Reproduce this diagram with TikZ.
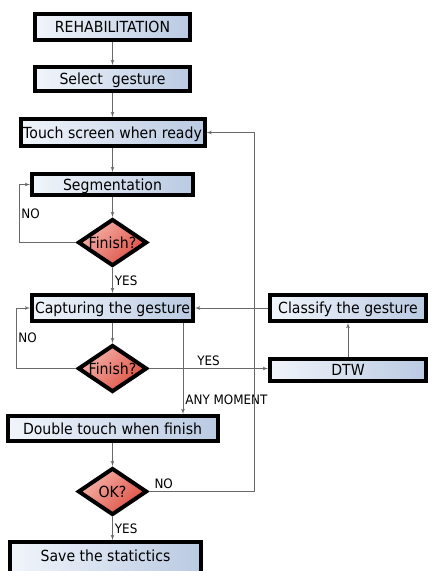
\documentclass[tikz,border=0pt]{standalone}
\usepackage{fontspec}
\setmainfont{DejaVu Sans}[FakeStretch=0.92]
\usetikzlibrary{shapes,arrows,positioning,calc,shapes.geometric}

\definecolor{boxleft}{RGB}{241,245,251}
\definecolor{boxright}{RGB}{186,202,226}
\definecolor{decisiontop}{RGB}{246,180,170}
\definecolor{decisionbottom}{RGB}{220,78,66}
\definecolor{linegray}{RGB}{105,105,105}

\begin{document}
\begin{tikzpicture}[x=1pt, y=1pt, node distance=22pt]
\tikzstyle{block} = [rectangle, draw, line width=4pt, left color=boxleft, right color=boxright, minimum height=24pt, inner sep=1pt, text height=14pt, text depth=2.5pt, font=\fontsize{15.3}{18}\selectfont]
\tikzstyle{decision} = [diamond, draw, line width=4pt, top color=decisiontop, bottom color=decisionbottom, shading angle=45, minimum width=69pt, minimum height=47pt, inner sep=0pt, text height=12pt, text depth=0pt, font=\fontsize{15.3}{18}\selectfont]
\tikzstyle{line} = [draw, linegray, line width=0.8pt, -latex']
\tikzstyle{tag} = [font=\fontsize{13}{15}\selectfont, text=black, inner sep=2pt]

\useasboundingbox (0,0) rectangle (433,-571);

% Main column

\node [block, minimum width=155pt, minimum height=26pt] at (112.5,-27) (rehab) {REHABILITATION};

\node [block, below=23pt of rehab, minimum width=155pt] (select) {Select~~gesture};

\node [block, below=24pt of select, minimum width=184pt, minimum height=27pt] (touch) {Touch screen when ready};

\node [block, below=24pt of touch, minimum width=161pt, minimum height=21pt] (seg) {Segmentation};

\node [decision, below=20pt of seg] (finSeg) {\makebox[0pt]{Finish?}};

\node [block, below=25pt of finSeg, minimum width=161pt, minimum height=26pt] (capture) {Capturing the gesture};

\node [decision, below=20pt of capture] (finCapture) {\makebox[0pt]{Finish?}};

\node [block, below=20pt of finCapture, minimum width=210pt, minimum height=25pt] (doubleTouch) {Double touch when finish};

\node [decision, below=23pt of doubleTouch] (ok) {\makebox[0pt]{OK?}};

\node [block, below=23pt of ok, xshift=-7pt, minimum width=191pt, minimum height=40pt, text height=2pt, text depth=3pt] (save) {Save the statictics};

% Right column

\node [block, right=73pt of capture, minimum width=156pt, minimum height=26pt] (classify) {Classify the gesture};

\node [block, below=34pt of classify, minimum width=156pt, minimum height=22pt] (dtw) {DTW};

% Connections
\draw [line] (rehab) -- (select);
\draw [line] (select) -- (touch);
\draw [line] (touch) -- (seg);
\draw [line] (seg) -- (finSeg);
\draw [line] (finSeg) -- node[tag, right] {YES} (capture);
\draw [line] (finSeg.west) -- ++(-57,0) |- node[tag, right, pos=0.25] {NO} (seg.west);
\draw [line] (capture) -- (finCapture);
\draw [line] (finCapture.west) -- ++(-60,0) |- node[tag, right, pos=0.25] {NO} (capture.west);
\draw [line] (finCapture.east) -- node[tag, above] {YES} (finCapture.east -| dtw.west);
\draw [line] (dtw) -- (classify);
\draw [line] (classify) -- (capture);
\coordinate (anyMoment) at ([xshift=-12pt]capture.south east);
\draw [line] (anyMoment) -- node[tag, right, pos=0.84] {ANY MOMENT} (anyMoment |- doubleTouch.north);
\draw [line] (doubleTouch) -- (ok);
\draw [line] (ok.south) -- node[tag, right] {YES} (ok.south |- save.north);
\draw [line] (ok.east) -- node[tag, above right, pos=0.03] {NO} ++(105,0) |- (touch.east);

\end{tikzpicture}
\end{document}
